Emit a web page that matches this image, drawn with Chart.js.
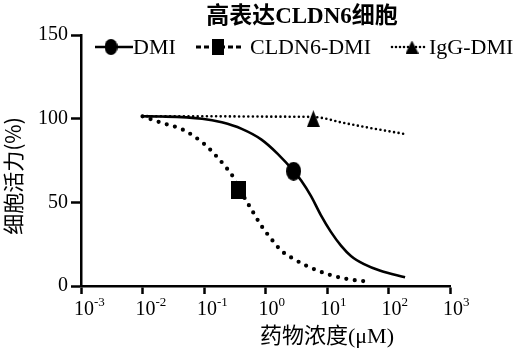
<!DOCTYPE html>
<html>
<head>
<meta charset="utf-8">
<script src="https://cdn.jsdelivr.net/npm/chart.js@4/dist/chart.umd.min.js"></script>
<style>
  html, body { margin: 0; padding: 0; background: #fff; }
  #wrap { width: 522px; height: 351px; }
</style>
</head>
<body>
<div id="wrap"><canvas id="chart" width="522" height="351"></canvas></div>
<script>
// ---- data ----
const titleText = '高表达CLDN6细胞';
const yTitle = '细胞活力(%)';
const xTitle = '药物浓度(μM)';

const xTickValues = [1e-3, 1e-2, 1e-1, 1, 10, 100, 1000];
const xTickExponents = ['-3', '-2', '-1', '0', '1', '2', '3'];

// DMI (solid line)
const concDMI = [0.01, 0.02, 0.093, 0.195, 0.41, 0.86, 1.58, 2.88, 3.8, 5.5, 7.9, 11.5, 17, 24.5, 40, 74, 186];
const viabDMI = [101.4, 101.3, 100, 97.8, 93.9, 87.5, 79, 68.6, 63, 53.7, 42.5, 32.5, 24, 18, 13.1, 9.1, 5.2];
const markerDMI = [2.86, 68.6];

// CLDN6-DMI (round dots)
const concCLDN6 = [0.01, 0.021, 0.045, 0.1, 0.15, 0.22, 0.3, 0.38, 0.59, 0.86, 1.25, 1.82, 2.63, 4.9, 10.2, 21, 46];
const viabCLDN6 = [101.4, 97.4, 93.5, 85, 78.6, 71.6, 65, 57.7, 45.8, 35.9, 28, 21, 17, 11.7, 7.1, 4.2, 2.6];
const markerCLDN6 = [0.37, 57.5];

// IgG-DMI (fine dots)
const concIgG = [0.01, 0.174, 1.5, 6.0, 19, 51, 174];
const viabIgG = [101.5, 101.4, 101.2, 101, 97.4, 94.4, 91];
const markerIgG = [6.0, 100];

// ---- marker images (the printed markers are a little taller than wide) ----
function markerCanvas(shape, w, h) {
  const c = document.createElement('canvas');
  c.width = w; c.height = h;
  const g = c.getContext('2d');
  g.fillStyle = '#000';
  g.beginPath();
  if (shape === 'circle') {
    g.ellipse(w / 2, h / 2, w / 2, h / 2, 0, 0, Math.PI * 2);
  } else if (shape === 'rect') {
    g.rect(0, 0, w, h);
  } else {
    g.moveTo(w / 2, 0);
    g.lineTo(w, h);
    g.lineTo(0, h);
    g.closePath();
  }
  g.fill();
  return c;
}

const styles = {
  DMI: { dash: [], width: 2.6, cap: 'butt',
         marker: markerCanvas('circle', 15, 19), legendMarker: markerCanvas('circle', 13, 16) },
  CLDN6: { dash: [0, 8.5], width: 4.2, cap: 'round',
         marker: markerCanvas('rect', 15, 18), legendMarker: markerCanvas('rect', 12, 16) },
  IgG: { dash: [0, 4.6], width: 2.6, cap: 'round',
         marker: markerCanvas('triangle', 13, 17), legendMarker: markerCanvas('triangle', 13, 13) }
};

function pts(xs, ys) {
  return xs.map((x, i) => ({ x: x, y: ys[i] }));
}

function lineSet(label, key, xs, ys) {
  const s = styles[key];
  return {
    type: 'line',
    label: label,
    data: pts(xs, ys),
    borderColor: '#000',
    borderWidth: s.width,
    borderDash: s.dash,
    borderCapStyle: s.cap,
    cubicInterpolationMode: 'monotone',
    pointRadius: 0,
    fill: false
  };
}

function markerSet(key, m) {
  return {
    label: key + ' marker',
    data: [{ x: m[0], y: m[1] }],
    showLine: false,
    pointStyle: styles[key].marker,
    pointRadius: 8,
    backgroundColor: '#000',
    borderColor: '#000'
  };
}

// legend sample positions (pixels)
const legendLayout = [
  { key: 'DMI', text: 'DMI', x0: 95, x1: 133, mx: 111, tx: 133 },
  { key: 'CLDN6', text: 'CLDN6-DMI', x0: 196, x1: 243, mx: 218, tx: 250 },
  { key: 'IgG', text: 'IgG-DMI', x0: 392, x1: 428, mx: 412, tx: 429 }
];

const texts = {
  id: 'texts',
  afterDraw(chart) {
    const ctx = chart.ctx;
    const xs = chart.scales.x;
    ctx.save();
    ctx.fillStyle = '#000';
    ctx.strokeStyle = '#000';

    // x tick labels 10^n
    ctx.textBaseline = 'alphabetic';
    ctx.textAlign = 'left';
    xTickValues.forEach((v, i) => {
      const px = xs.getPixelForValue(v);
      ctx.font = '20px "Liberation Serif"';
      ctx.fillText('10', px - 7, 315);
      const w = ctx.measureText('10').width;
      ctx.font = '13px "Liberation Serif"';
      ctx.fillText(xTickExponents[i], px - 7 + w, 306);
    });

    // title
    ctx.textAlign = 'center';
    ctx.textBaseline = 'middle';
    ctx.font = 'bold 23px "Liberation Serif", "Noto Sans CJK SC"';
    ctx.fillText(titleText, 302, 17);

    // x title
    ctx.font = '22px "Liberation Serif", "Noto Sans CJK SC"';
    ctx.fillText(xTitle, 327, 337);

    // y title
    ctx.save();
    ctx.translate(13, 176);
    ctx.rotate(-Math.PI / 2);
    ctx.font = '21px "Noto Sans CJK SC"';
    ctx.fillText(yTitle, 0, 0);
    ctx.restore();

    // legend
    const ly = 47;
    legendLayout.forEach(item => {
      const s = styles[item.key];
      ctx.save();
      ctx.lineWidth = item.key === 'CLDN6' ? 3 : s.width;
      ctx.lineCap = item.key === 'CLDN6' ? 'butt' : s.cap;
      ctx.setLineDash(item.key === 'CLDN6' ? [5, 3] : (item.key === 'IgG' ? [0, 4] : []));
      ctx.beginPath();
      ctx.moveTo(item.x0, ly);
      ctx.lineTo(item.x1, ly);
      ctx.stroke();
      ctx.restore();
      const m = s.legendMarker;
      ctx.drawImage(m, item.mx - m.width / 2, ly - m.height / 2);
      ctx.textAlign = 'left';
      ctx.font = '22px "Liberation Serif"';
      ctx.fillText(item.text, item.tx, ly + 1);
    });
    ctx.restore();
  }
};

new Chart(document.getElementById('chart'), {
  type: 'scatter',
  data: {
    datasets: [
      lineSet('DMI', 'DMI', concDMI, viabDMI),
      lineSet('CLDN6-DMI', 'CLDN6', concCLDN6, viabCLDN6),
      lineSet('IgG-DMI', 'IgG', concIgG, viabIgG),
      markerSet('DMI', markerDMI),
      markerSet('CLDN6', markerCLDN6),
      markerSet('IgG', markerIgG)
    ]
  },
  options: {
    responsive: false,
    animation: false,
    layout: { padding: { top: 35, left: 35, right: 72, bottom: 57 } },
    plugins: {
      legend: { display: false },
      title: { display: false },
      tooltip: { enabled: false }
    },
    scales: {
      x: {
        type: 'logarithmic',
        min: 1e-3,
        max: 1e3,
        afterBuildTicks: axis => { axis.ticks = xTickValues.map(v => ({ value: v })); },
        ticks: { display: false },
        grid: { drawOnChartArea: false, drawTicks: true, tickLength: 8, tickWidth: 2.5, tickColor: '#000' },
        border: { display: true, color: '#000', width: 2.5 }
      },
      y: {
        min: 0,
        max: 150,
        ticks: { stepSize: 50, color: '#000', padding: 3, font: { family: 'Liberation Serif', size: 20 } },
        grid: { drawOnChartArea: false, drawTicks: true, tickLength: 10, tickWidth: 2.5, tickColor: '#000' },
        border: { display: true, color: '#000', width: 2.5 }
      }
    }
  },
  plugins: [texts]
});
</script>
</body>
</html>
